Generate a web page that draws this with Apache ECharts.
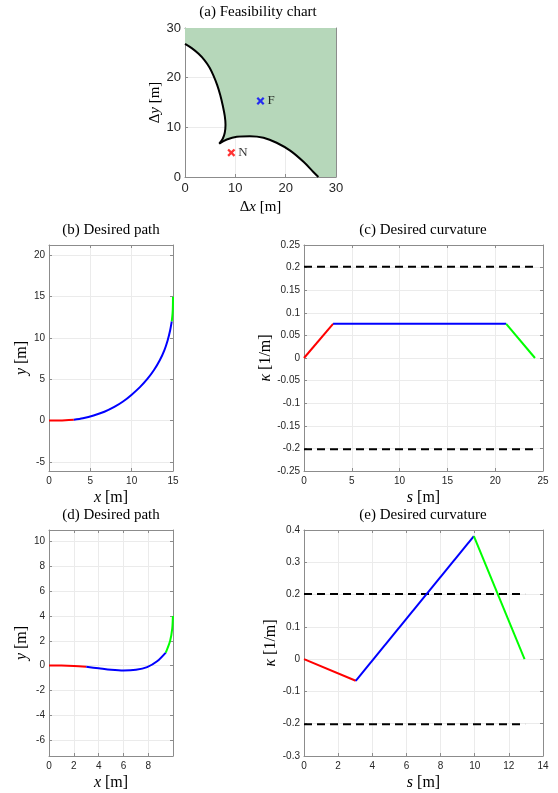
<!DOCTYPE html>
<html>
<head>
<meta charset="utf-8">
<script src="https://cdn.jsdelivr.net/npm/echarts@6/dist/echarts.min.js"></script>
<style>
html, body { margin: 0; padding: 0; background: #fff; }
#main { width: 558px; height: 793px; }
</style>
</head>
<body>
<div id="main"></div>
<script>
// (a) feasibility chart: boundary of the feasible region
var feasUpper = [
    [0, 26.8], [1.4, 25.9], [2.7, 24.8], [3.9, 23.5], [4.9, 22.0], [5.7, 20.3],
    [6.4, 18.5], [7.0, 16.5], [7.5, 14.4], [7.9, 12.3], [8.05, 10.5], [7.9, 8.9],
    [7.5, 7.7], [6.8, 6.7]
];
var feasLower = [
    [6.8, 6.7], [8.3, 7.55], [10.3, 8.1], [12.9, 8.2], [15.6, 7.9], [18.2, 6.9],
    [20.9, 5.3], [23.6, 3.0], [25.5, 1.0], [26.5, 0]
];
var feasCorner = [[30, 0], [30, 30], [0, 30]];
var pointN = [[9.2, 4.9]];
var pointF = [[15.0, 15.3]];

// (b) desired path 1
var path1Red = [[0, 0], [1, 0.01], [2, 0.04], [3, 0.11]];
var path1Blue = [[3, 0.11], [4.1, 0.29], [5.4, 0.62], [6.7, 1.07], [7.9, 1.65], [9.0, 2.34],
    [10.0, 3.14], [11.0, 4.05], [11.9, 5.04], [12.7, 6.12], [13.4, 7.3], [13.95, 8.5],
    [14.35, 9.7], [14.65, 10.9], [14.85, 12.0]];
var path1Green = [[14.85, 12.0], [14.95, 13.0], [14.99, 14.0], [15, 15]];

// (c) desired curvature 1
var curv1Red = [[0, 0], [3.04, 0.0755]];
var curv1Blue = [[3.04, 0.0755], [21.15, 0.0755]];
var curv1Green = [[21.15, 0.0755], [24.16, 0]];
var curv1Limit = 0.202;
var curv1End = 24.16;

// (d) desired path 2
var path2Red = [[0, 0], [1, 0], [2, -0.03], [3, -0.1]];
var path2Blue = [[3, -0.1], [4, -0.22], [5, -0.34], [6, -0.4], [7, -0.34], [7.9, -0.12],
    [8.7, 0.35], [9.4, 1.05]];
var path2Green = [[9.4, 1.05], [9.75, 2.0], [9.92, 3.0], [9.97, 4.0]];

// (e) desired curvature 2
var curv2Red = [[0, 0], [3.03, -0.067]];
var curv2Blue = [[3.03, -0.067], [9.95, 0.381]];
var curv2Green = [[9.95, 0.381], [12.92, 0]];
var curv2Limit = 0.202;
var curv2End = 12.95;

var RED = '#ff0000', BLUE = '#0000ff', GREEN = '#00ff00';
var BOX = '#8c8c8c';
var SANS = '"Liberation Sans", Arial, sans-serif';
var SERIF = '"Liberation Serif", "Times New Roman", serif';

var grids = [
    { left: 185, top: 28, width: 151, height: 149 },
    { left: 49, top: 245, width: 124, height: 226 },
    { left: 304, top: 245, width: 239, height: 226 },
    { left: 49, top: 530, width: 124, height: 226 },
    { left: 304, top: 530, width: 239, height: 226 }
];

var xAxes = [], yAxes = [];

// one box of axes: bottom/left carry labels, top/right only mirror ticks
function addAxes(g, x, y) {
    var fs = x.fs || 10;
    var common = function (extra) {
        return Object.assign({
            type: 'value',
            gridIndex: g,
            axisLine: { show: true, onZero: false, lineStyle: { color: BOX, width: 1 } },
            axisTick: { show: true, inside: true, length: 3, lineStyle: { color: BOX } }
        }, extra);
    };
    xAxes.push(common({
        position: 'bottom', min: x.min, max: x.max, interval: x.interval,
        splitLine: { show: true, lineStyle: { color: '#ebebeb' } },
        axisLabel: { color: '#262626', fontSize: fs, fontFamily: SANS, margin: 5,
            showMinLabel: x.showMin, showMaxLabel: x.showMax },
        name: x.name, nameLocation: 'middle', nameGap: x.gap,
        nameTextStyle: { color: '#000', fontSize: x.nfs || 16, fontFamily: SERIF,
            rich: { i: { fontStyle: 'italic', fontSize: x.nfs || 16, fontFamily: SERIF, color: '#000' },
                    n: { fontSize: x.nfs || 16, fontFamily: SERIF, color: '#000' } } }
    }));
    xAxes.push(common({
        position: 'top', min: x.min, max: x.max, interval: x.interval,
        splitLine: { show: false }, axisLabel: { show: false }
    }));
    yAxes.push(common({
        position: 'left', min: y.min, max: y.max, interval: y.interval, splitNumber: y.split,
        splitLine: { show: true, lineStyle: { color: '#ebebeb' } },
        axisLabel: { color: '#262626', fontSize: fs, fontFamily: SANS, margin: 4,
            showMinLabel: y.showMin, showMaxLabel: y.showMax },
        name: y.name, nameLocation: 'middle', nameGap: y.gap, nameRotate: 90,
        nameTextStyle: { color: '#000', fontSize: y.nfs || 16, fontFamily: SERIF,
            rich: { i: { fontStyle: 'italic', fontSize: y.nfs || 16, fontFamily: SERIF, color: '#000' },
                    n: { fontSize: y.nfs || 16, fontFamily: SERIF, color: '#000' } } }
    }));
    yAxes.push(common({
        position: 'right', min: y.min, max: y.max, interval: y.interval, splitNumber: y.split,
        splitLine: { show: false }, axisLabel: { show: false }
    }));
}

addAxes(0, { min: 0, max: 30, interval: 10, fs: 13, name: '{n|Δ}{i|x}{n| [m]}', gap: 23, nfs: 15 },
           { min: 0, max: 30, interval: 10, name: '{n|Δ}{i|y}{n| [m]}', gap: 17, nfs: 15 });
addAxes(1, { min: 0, max: 15, interval: 5, name: '{i|x}{n| [m]}', gap: 19 },
           { min: -6.1, max: 21.25, split: 6, showMin: false, showMax: false, name: '{i|y}{n| [m]}', gap: 12 });
addAxes(2, { min: 0, max: 25, interval: 5, name: '{i|s}{n| [m]}', gap: 19 },
           { min: -0.25, max: 0.25, interval: 0.05, name: '{i|κ}{n| [1/m]}', gap: 22 });
addAxes(3, { min: 0, max: 9.98, interval: 2, showMax: false, name: '{i|x}{n| [m]}', gap: 19 },
           { min: -7.28, max: 10.92, split: 8, showMin: false, showMax: false, name: '{i|y}{n| [m]}', gap: 12 });
addAxes(4, { min: 0, max: 14, interval: 2, name: '{i|s}{n| [m]}', gap: 19 },
           { min: -0.3, max: 0.4, interval: 0.1, name: '{i|κ}{n| [1/m]}', gap: 22 });

function lineSeries(g, data, color, extra) {
    return Object.assign({
        type: 'line', xAxisIndex: 2 * g, yAxisIndex: 2 * g,
        data: data, showSymbol: false, symbol: 'none', animation: false,
        lineStyle: { color: color, width: 2 }, z: 3
    }, extra || {});
}

function limitSeries(g, level, end) {
    return lineSeries(g, [[0, level], [end, level]], '#000', {
        lineStyle: { color: '#000', width: 2, type: [8, 5] }, z: 2
    });
}

var crossPath = 'path://M0,2 L2,0 L5,3 L8,0 L10,2 L7,5 L10,8 L8,10 L5,7 L2,10 L0,8 L3,5 Z';

var series = [
    {
        type: 'custom', xAxisIndex: 0, yAxisIndex: 0, data: [[0, 0]], z: 1, silent: true,
        renderItem: function (params, api) {
            var pts = feasUpper.concat(feasLower.slice(1), feasCorner)
                .map(function (p) { return api.coord(p); });
            return { type: 'polygon', shape: { points: pts, smooth: 0 }, style: { fill: '#b6d7ba' } };
        }
    },
    lineSeries(0, feasUpper, '#000', { smooth: 0.35, lineStyle: { color: '#000', width: 2 } }),
    lineSeries(0, feasLower, '#000', { smooth: 0.35, lineStyle: { color: '#000', width: 2 } }),
    {
        type: 'scatter', xAxisIndex: 0, yAxisIndex: 0, data: pointN, symbol: crossPath,
        symbolSize: 8, itemStyle: { color: RED }, z: 4,
        label: { show: true, formatter: 'N', position: 'right', distance: 3,
            color: '#000', fontSize: 13, fontFamily: SERIF }
    },
    {
        type: 'scatter', xAxisIndex: 0, yAxisIndex: 0, data: pointF, symbol: crossPath,
        symbolSize: 8, itemStyle: { color: BLUE }, z: 4,
        label: { show: true, formatter: 'F', position: 'right', distance: 3,
            color: '#000', fontSize: 13, fontFamily: SERIF }
    },

    lineSeries(1, path1Red, RED, { smooth: 0.3 }),
    lineSeries(1, path1Blue, BLUE, { smooth: 0.3 }),
    lineSeries(1, path1Green, GREEN, { smooth: 0.3 }),

    limitSeries(2, curv1Limit, curv1End),
    limitSeries(2, -curv1Limit, curv1End),
    lineSeries(2, curv1Red, RED),
    lineSeries(2, curv1Blue, BLUE),
    lineSeries(2, curv1Green, GREEN),

    lineSeries(3, path2Red, RED, { smooth: 0.3 }),
    lineSeries(3, path2Blue, BLUE, { smooth: 0.3 }),
    lineSeries(3, path2Green, GREEN, { smooth: 0.3 }),

    limitSeries(4, curv2Limit, curv2End),
    limitSeries(4, -curv2Limit, curv2End),
    lineSeries(4, curv2Red, RED),
    lineSeries(4, curv2Blue, BLUE),
    lineSeries(4, curv2Green, GREEN)
];

function titleText(x, y, text) {
    return { type: 'text', x: x, y: y, silent: true,
        style: { text: text, fontSize: 15, fontFamily: SERIF, fill: '#000',
            align: 'center', verticalAlign: 'middle' } };
}

var myChart = echarts.init(document.getElementById('main'));
var option = {
    backgroundColor: '#fff',
    animation: false,
    grid: grids,
    xAxis: xAxes,
    yAxis: yAxes,
    series: series,
    graphic: [
        titleText(258, 12, '(a) Feasibility chart'),
        titleText(111, 230, '(b) Desired path'),
        titleText(423, 230, '(c) Desired curvature'),
        titleText(111, 515, '(d) Desired path'),
        titleText(423, 515, '(e) Desired curvature')
    ]
};
myChart.setOption(option, true);
</script>
</body>
</html>
